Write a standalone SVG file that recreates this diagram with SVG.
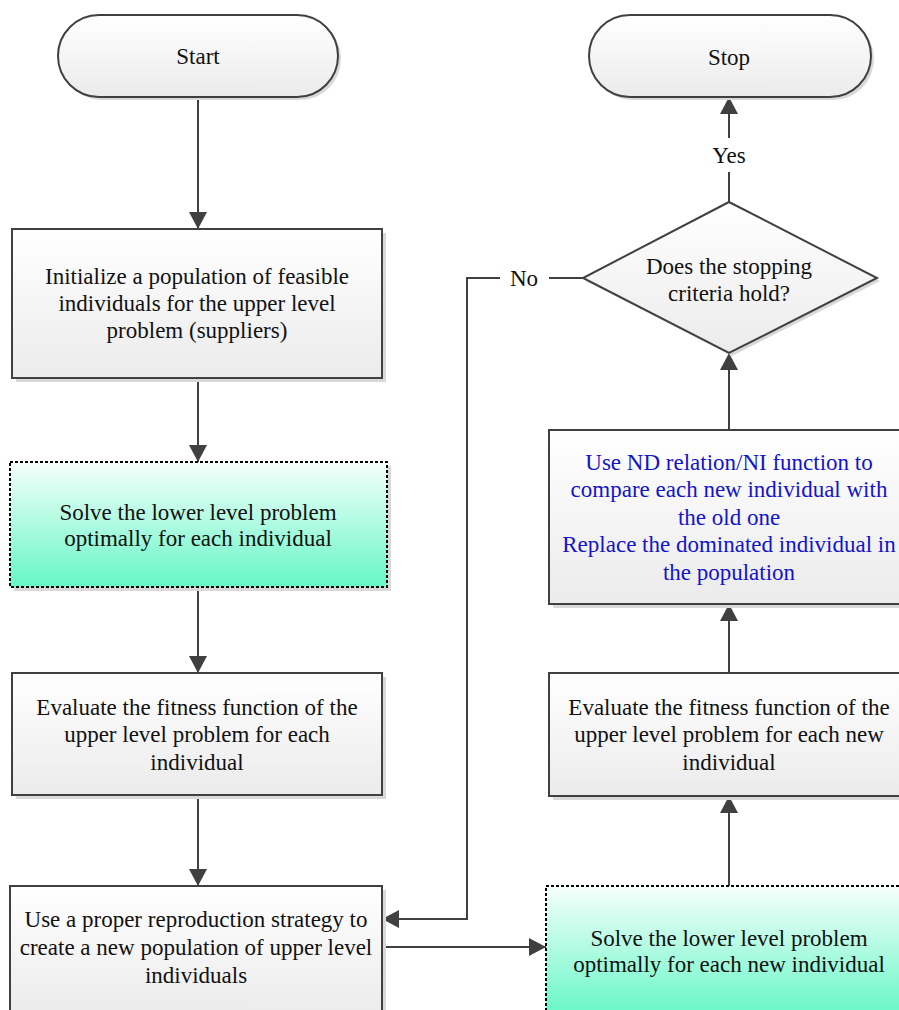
<svg xmlns="http://www.w3.org/2000/svg" width="899" height="1010" viewBox="0 0 899 1010">
<defs>
<linearGradient id="gGray" x1="0" y1="0" x2="0" y2="1">
<stop offset="0" stop-color="#ffffff"/>
<stop offset="1" stop-color="#ebebeb"/>
</linearGradient>
<linearGradient id="gGreen" x1="0" y1="0" x2="0" y2="1">
<stop offset="0" stop-color="#f6fffb"/>
<stop offset="1" stop-color="#66f7c6"/>
</linearGradient>
<marker id="arr" markerUnits="userSpaceOnUse" markerWidth="18" markerHeight="18" refX="17" refY="9" orient="auto">
<path d="M0,0 L17,9 L0,18 Z" fill="#404040"/>
</marker>
</defs>
<style>
.shadow{fill:#d9d9d9;}
.box{fill:url(#gGray);stroke:#404040;stroke-width:2;}
.gbox{fill:url(#gGreen);stroke:#000;stroke-width:2;stroke-dasharray:3 2;}
.conn{fill:none;stroke:#404040;stroke-width:2;}
</style>
<rect width="899" height="1010" fill="#ffffff"/>

<g id="connectors">
<line class="conn" x1="198" y1="97" x2="198" y2="229" marker-end="url(#arr)"/>
<line class="conn" x1="198" y1="378" x2="198" y2="462" marker-end="url(#arr)"/>
<line class="conn" x1="198" y1="587" x2="198" y2="673" marker-end="url(#arr)"/>
<line class="conn" x1="198" y1="795" x2="198" y2="886" marker-end="url(#arr)"/>
<line class="conn" x1="382" y1="947" x2="546" y2="947" marker-end="url(#arr)"/>
<line class="conn" x1="729" y1="886" x2="729" y2="796" marker-end="url(#arr)"/>
<line class="conn" x1="729" y1="673" x2="729" y2="604" marker-end="url(#arr)"/>
<line class="conn" x1="729" y1="430" x2="729" y2="353" marker-end="url(#arr)"/>
<line class="conn" x1="729" y1="202" x2="729" y2="172"/>
<line class="conn" x1="729" y1="138" x2="729" y2="97" marker-end="url(#arr)"/>
<polyline class="conn" points="583,278 549,278"/>
<polyline class="conn" points="500,278 467,278 467,919 382,919" marker-end="url(#arr)"/>
<g font-family="Liberation Serif, Times New Roman, serif" font-size="23" fill="#111" text-anchor="middle">
<text x="729" y="163">Yes</text>
<text x="524" y="286">No</text>
</g>
</g>

<g font-family="Liberation Serif, Times New Roman, serif" font-size="23" fill="#111" text-anchor="middle">
<g id="start">
<rect class="shadow" x="61" y="18" width="280" height="82" rx="41"/>
<rect class="box" x="58" y="15" width="280" height="82" rx="41"/>
<text x="198" y="64">Start</text>
</g>

<g id="init">
<rect class="shadow" x="16" y="233" width="370" height="149"/>
<rect class="box" x="12" y="229" width="370" height="149"/>
<text x="197" y="284">Initialize a population of feasible</text>
<text x="197" y="311">individuals for the upper level</text>
<text x="197" y="338">problem (suppliers)</text>
</g>

<g id="solve1">
<rect class="shadow" x="14" y="466" width="377" height="125"/>
<rect class="gbox" x="10" y="462" width="377" height="125"/>
<text x="198" y="520">Solve the lower level problem</text>
<text x="198" y="546">optimally for each individual</text>
</g>

<g id="eval1">
<rect class="shadow" x="16" y="677" width="370" height="122"/>
<rect class="box" x="12" y="673" width="370" height="122"/>
<text x="197" y="715">Evaluate the fitness function of the</text>
<text x="197" y="742">upper level problem for each</text>
<text x="197" y="770">individual</text>
</g>

<g id="reproduce">
<rect class="shadow" x="14" y="890" width="372" height="130"/>
<rect class="box" x="10" y="886" width="372" height="130"/>
<text x="196" y="927">Use a proper reproduction strategy to</text>
<text x="196" y="955">create a new population of upper level</text>
<text x="196" y="983">individuals</text>
</g>

<g id="solve2">
<rect class="gbox" x="546" y="886" width="370" height="130"/>
<text x="729" y="946">Solve the lower level problem</text>
<text x="729" y="972">optimally for each new individual</text>
</g>

<g id="eval2">
<rect class="shadow" x="553" y="677" width="370" height="123"/>
<rect class="box" x="549" y="673" width="370" height="123"/>
<text x="729" y="715">Evaluate the fitness function of the</text>
<text x="729" y="742">upper level problem for each new</text>
<text x="729" y="770">individual</text>
</g>

<g id="compare">
<rect class="shadow" x="553" y="434" width="370" height="174"/>
<rect class="box" x="549" y="430" width="370" height="174"/>
<g fill="#1414c8">
<text x="729" y="470">Use ND relation/NI function to</text>
<text x="729" y="497">compare each new individual with</text>
<text x="729" y="525">the old one</text>
<text x="729" y="552">Replace the dominated individual in</text>
<text x="729" y="580">the population</text>
</g>
</g>

<g id="decision">
<polygon class="shadow" points="732,206 880,281 732,356 586,281"/>
<polygon class="box" points="729,202 877,278 729,353 583,278"/>
<text x="729" y="274">Does the stopping</text>
<text x="729" y="301">criteria hold?</text>
</g>

<g id="stop">
<rect class="shadow" x="592" y="18" width="282" height="82" rx="41"/>
<rect class="box" x="589" y="15" width="282" height="82" rx="41"/>
<text x="729" y="65">Stop</text>
</g>
</g>
</svg>
